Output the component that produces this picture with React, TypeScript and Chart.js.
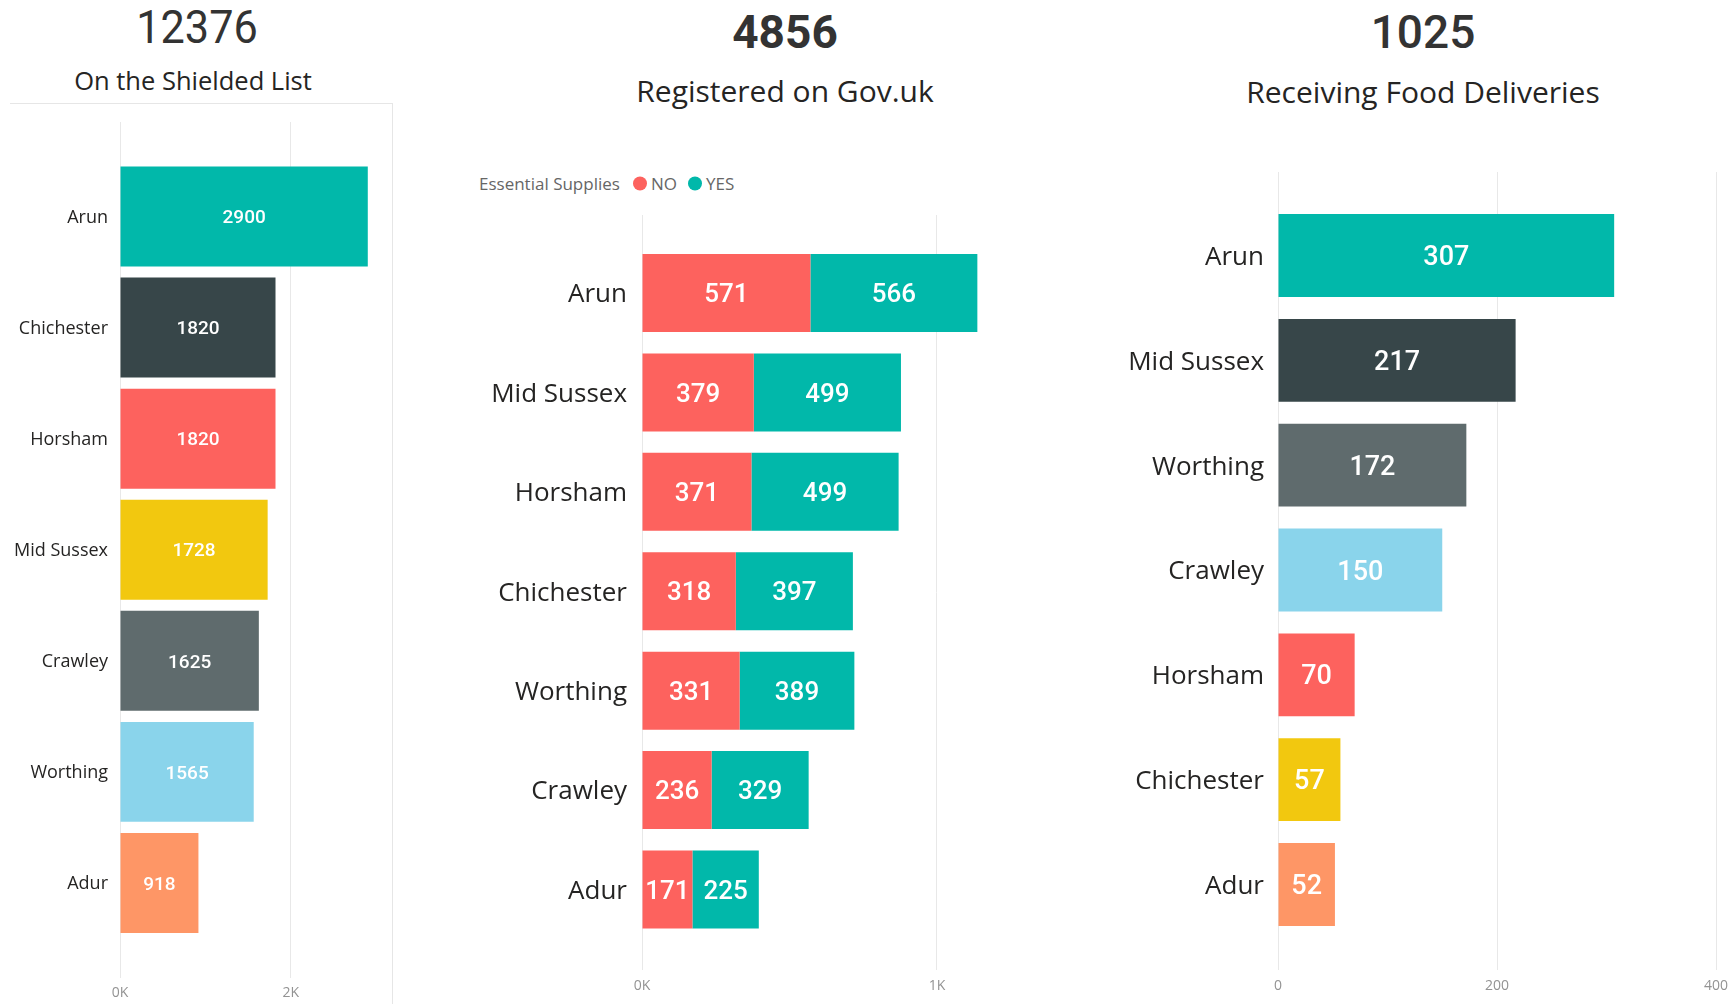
import React, { useEffect, useRef } from "react";
import { Chart, registerables } from "chart.js";

Chart.register(...registerables);

// ---------- DATA ----------
const SHIELDED_TOTAL = "12376";
const SHIELDED_TITLE = "On the Shielded List";
const SHIELDED_CATEGORIES = ["Arun", "Chichester", "Horsham", "Mid Sussex", "Crawley", "Worthing", "Adur"];
const SHIELDED_VALUES = [2900, 1820, 1820, 1728, 1625, 1565, 918];
const SHIELDED_COLORS = ["#01B8AA", "#374649", "#FD625E", "#F2C80F", "#5F6B6D", "#8AD4EB", "#FE9666"];
const SHIELDED_TICKS = [0, 2000];
const SHIELDED_TICK_LABELS = ["0K", "2K"];

const GOV_TOTAL = "4856";
const GOV_TITLE = "Registered on Gov.uk";
const GOV_LEGEND_TITLE = "Essential Supplies";
const GOV_CATEGORIES = ["Arun", "Mid Sussex", "Horsham", "Chichester", "Worthing", "Crawley", "Adur"];
const GOV_SERIES = ["NO", "YES"];
const GOV_NO = [571, 379, 371, 318, 331, 236, 171];
const GOV_YES = [566, 499, 499, 397, 389, 329, 225];
const GOV_SERIES_COLORS = ["#FD625E", "#01B8AA"];
const GOV_TICKS = [0, 1000];
const GOV_TICK_LABELS = ["0K", "1K"];

const FOOD_TOTAL = "1025";
const FOOD_TITLE = "Receiving Food Deliveries";
const FOOD_CATEGORIES = ["Arun", "Mid Sussex", "Worthing", "Crawley", "Horsham", "Chichester", "Adur"];
const FOOD_VALUES = [307, 217, 172, 150, 70, 57, 52];
const FOOD_COLORS = ["#01B8AA", "#374649", "#5F6B6D", "#8AD4EB", "#FD625E", "#F2C80F", "#FE9666"];
const FOOD_TICKS = [0, 200, 400];
const FOOD_TICK_LABELS = ["0", "200", "400"];

// ---------- STYLE ----------
const SANS = "'Open Sans', 'Noto Sans', sans-serif";
const NUM = "Roboto, 'Noto Sans', sans-serif";
const GRID = "#e8e8e8";

const valueLabelPlugin = {
  id: "valueLabels",
  afterDatasetsDraw(chart: any, _args: any, opts: any) {
    const ctx = chart.ctx;
    const size = opts.size;
    ctx.save();
    ctx.font = `${opts.weight} ${size}px ${NUM}`;
    ctx.fillStyle = "#ffffff";
    ctx.textAlign = "center";
    ctx.textBaseline = "alphabetic";
    chart.data.datasets.forEach((ds: any, di: number) => {
      const meta = chart.getDatasetMeta(di);
      meta.data.forEach((el: any, i: number) => {
        const p = el.getProps(["x", "y", "base"], true);
        const v = ds.data[i].x;
        ctx.fillText(String(v), (p.x + p.base) / 2, p.y + size * 0.355);
      });
    });
    ctx.restore();
  },
};

type SeriesDef = { label: string; values: number[]; colors: string | string[] };

type PanelProps = {
  box: { left: number; top: number; width: number; height: number };
  pad: { top: number; right: number };
  yAxisWidth: number;
  xAxisHeight: number;
  categories: string[];
  series: SeriesDef[];
  xMax: number;
  ticks: number[];
  tickLabels: string[];
  yMin: number;
  yMax: number;
  barPct: number;
  catSize: number;
  catPad: number;
  catOffset: number;
  valueSize: number;
  tickPad: number;
};

function BarPanel(p: PanelProps) {
  const ref = useRef<HTMLCanvasElement>(null);
  useEffect(() => {
    const chart = new Chart(ref.current as HTMLCanvasElement, {
      type: "bar",
      data: {
        datasets: p.series.map((s) => ({
          label: s.label,
          data: s.values.map((v, i) => ({ x: v, y: i })),
          backgroundColor: s.colors,
          borderWidth: 0,
          barPercentage: p.barPct,
          categoryPercentage: 1,
          stack: "a",
        })),
      } as any,
      options: {
        indexAxis: "y",
        animation: false,
        responsive: false,
        maintainAspectRatio: false,
        layout: { padding: { top: p.pad.top, right: p.pad.right, left: 0, bottom: 0 } },
        plugins: {
          legend: { display: false },
          tooltip: { enabled: false },
          valueLabels: { size: p.valueSize, weight: 500 },
        } as any,
        scales: {
          x: {
            type: "linear",
            position: "bottom",
            min: 0,
            max: p.xMax,
            bounds: "data",
            offset: false,
            stacked: true,
            grid: { color: GRID, lineWidth: 1, drawTicks: false, offset: false },
            border: { display: false },
            ticks: {
              autoSkip: false,
              maxRotation: 0,
              padding: p.tickPad,
              color: "#939393",
              font: { family: SANS, size: 14 },
              callback: (v: any) => {
                const k = p.ticks.indexOf(Number(v));
                return k >= 0 ? p.tickLabels[k] : "";
              },
            },
            afterBuildTicks: (s: any) => {
              s.ticks = p.ticks.map((v) => ({ value: v }));
            },
            afterFit: (s: any) => {
              s.height = p.xAxisHeight;
              s.paddingLeft = 0;
              s.paddingRight = 0;
            },
          },
          y: {
            type: "linear",
            position: "left",
            min: p.yMin,
            max: p.yMax,
            bounds: "data",
            offset: false,
            reverse: true,
            grid: { display: false, drawTicks: false, offset: false },
            border: { display: false },
            ticks: {
              autoSkip: false,
              padding: p.catPad,
              labelOffset: p.catOffset,
              color: "#252423",
              font: { family: SANS, size: p.catSize },
              callback: (v: any) => p.categories[Number(v)] ?? "",
            },
            afterBuildTicks: (s: any) => {
              s.ticks = p.categories.map((_, i) => ({ value: i }));
            },
            afterFit: (s: any) => {
              s.width = p.yAxisWidth;
              s.paddingTop = 0;
              s.paddingBottom = 0;
            },
          },
        },
      } as any,
      plugins: [valueLabelPlugin as any],
    });
    return () => chart.destroy();
  }, []);
  return (
    <canvas
      ref={ref}
      width={p.box.width}
      height={p.box.height}
      style={{ position: "absolute", left: p.box.left, top: p.box.top, width: p.box.width, height: p.box.height }}
    />
  );
}

function CenterText(props: { x: number; y: number; size: number; family: string; weight?: number; color?: string; sx?: number; children: any }) {
  return (
    <div
      style={{
        position: "absolute",
        left: props.x,
        top: props.y,
        transform: `translate(-50%, -50%) scaleX(${props.sx ?? 1})`,
        fontFamily: props.family,
        fontSize: props.size,
        fontWeight: props.weight ?? 400,
        color: props.color ?? "#252423",
        lineHeight: 1,
        whiteSpace: "nowrap",
      }}
    >
      {props.children}
    </div>
  );
}

export default function App() {
  useEffect(() => {
    document.body.style.margin = "0";
  }, []);
  return (
    <div style={{ position: "fixed", left: 0, top: 0, width: 1732, height: 1004, background: "#ffffff", overflow: "hidden" }}>
      {/* Left panel frame */}
      <div style={{ position: "absolute", left: 10, top: 103, width: 383, height: 1, background: "#e6e6e6" }} />
      <div style={{ position: "absolute", left: 392, top: 103, width: 1, height: 901, background: "#e6e6e6" }} />

      <CenterText x={197} y={26} size={47} family={NUM} weight={400} color="#333333" sx={0.92}>{SHIELDED_TOTAL}</CenterText>
      <CenterText x={193} y={81} size={25.5} family={SANS}>{SHIELDED_TITLE}</CenterText>

      <CenterText x={785} y={32} size={46} family={NUM} weight={700} color="#333333">{GOV_TOTAL}</CenterText>
      <CenterText x={785} y={91} size={30} family={SANS}>{GOV_TITLE}</CenterText>

      <CenterText x={1423} y={32} size={46} family={NUM} weight={500} color="#333333">{FOOD_TOTAL}</CenterText>
      <CenterText x={1423} y={92} size={30} family={SANS}>{FOOD_TITLE}</CenterText>

      {/* Legend */}
      <div
        style={{
          position: "absolute",
          left: 479,
          top: 183,
          transform: "translateY(-50%)",
          display: "flex",
          alignItems: "center",
          fontFamily: SANS,
          fontSize: 17,
          color: "#666666",
          lineHeight: 1,
          whiteSpace: "nowrap",
        }}
      >
        <span style={{ marginRight: 13 }}>{GOV_LEGEND_TITLE}</span>
        {GOV_SERIES.map((s, i) => (
          <span key={s} style={{ display: "flex", alignItems: "center", marginRight: 11 }}>
            <span style={{ width: 14, height: 14, borderRadius: 7, background: GOV_SERIES_COLORS[i], marginRight: 4, display: "inline-block" }} />
            <span>{s}</span>
          </span>
        ))}
      </div>

      <BarPanel
        box={{ left: 0, top: 100, width: 400, height: 904 }}
        pad={{ top: 22, right: 10 }}
        yAxisWidth={120}
        xAxisHeight={26}
        categories={SHIELDED_CATEGORIES}
        series={[{ label: "Shielded", values: SHIELDED_VALUES, colors: SHIELDED_COLORS }]}
        xMax={3160}
        ticks={SHIELDED_TICKS}
        tickLabels={SHIELDED_TICK_LABELS}
        yMin={-0.851}
        yMax={6.856}
        barPct={0.9}
        catSize={18}
        catPad={12}
        catOffset={1}
        valueSize={19}
        tickPad={7}
      />

      <BarPanel
        box={{ left: 420, top: 200, width: 680, height: 804 }}
        pad={{ top: 15, right: 20 }}
        yAxisWidth={222}
        xAxisHeight={34}
        categories={GOV_CATEGORIES}
        series={[
          { label: GOV_SERIES[0], values: GOV_NO, colors: GOV_SERIES_COLORS[0] },
          { label: GOV_SERIES[1], values: GOV_YES, colors: GOV_SERIES_COLORS[1] },
        ]}
        xMax={1485}
        ticks={GOV_TICKS}
        tickLabels={GOV_TICK_LABELS}
        yMin={-0.785}
        yMax={6.81}
        barPct={0.785}
        catSize={26}
        catPad={15}
        catOffset={2}
        valueSize={26}
        tickPad={8}
      />

      <BarPanel
        box={{ left: 1100, top: 160, width: 632, height: 844 }}
        pad={{ top: 12, right: 16 }}
        yAxisWidth={178}
        xAxisHeight={34}
        categories={FOOD_CATEGORIES}
        series={[{ label: "Food", values: FOOD_VALUES, colors: FOOD_COLORS }]}
        xMax={400}
        ticks={FOOD_TICKS}
        tickLabels={FOOD_TICK_LABELS}
        yMin={-0.7965}
        yMax={6.8156}
        barPct={0.79}
        catSize={26}
        catPad={14}
        catOffset={2}
        valueSize={27}
        tickPad={8}
      />
    </div>
  );
}
